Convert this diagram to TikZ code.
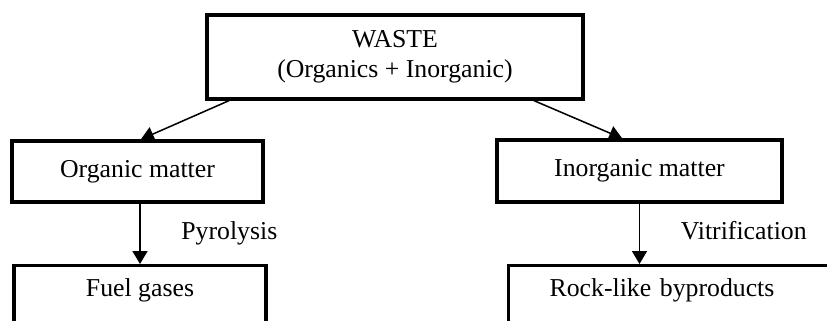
\documentclass[tikz,border=0pt]{standalone}
\usepackage{fontspec}
\setmainfont{Liberation Serif}
\usetikzlibrary{arrows.meta,positioning}

\begin{document}
\begin{tikzpicture}[x=1cm,y=1cm,every node/.style={font=\fontsize{22}{26}\selectfont},
  box/.style={draw,line width=2.8pt,inner sep=0pt},
  lowbox/.style={box,text height=0.93cm,text depth=2.5cm},
  arr/.style={line width=1.3pt,-{Triangle[length=0.39cm,width=0.45cm]}}]
\useasboundingbox (0,0) rectangle (24.81,-9.6);
\clip (0,0) rectangle (24.81,-9.6);
\node[box,minimum width=11.28cm,minimum height=2.52cm,align=center] (waste) at (11.85,-1.71) {WASTE\\(Organics + Inorganic)};
\node[box,minimum width=7.53cm,minimum height=1.83cm] (organic) at (4.125,-5.145) {Organic matter};
\node[box,minimum width=8.55cm,minimum height=1.86cm] (inorganic) at (19.185,-5.13) {Inorganic matter};
\node[lowbox,minimum width=7.56cm,anchor=north] (fuel) at (4.2,-7.92) {Fuel gases};
\node[lowbox,anchor=north west,inner xsep=1.23cm,text width=9cm,align=left] (rock) at (15.21,-7.92) {Rock-like byproducts};
\draw[arr] ([xshift=-4.98cm]waste.south) -- ([xshift=0.1cm]organic.north);
\draw[arr] ([xshift=4.17cm]waste.south) -- ([xshift=-0.52cm]inorganic.north);
\draw[arr] (fuel.north |- organic.south) -- node[midway,right=1.1cm] (pyro) {Pyrolysis} (fuel.north);
\draw[arr] (inorganic.south) -- node[midway,right=1.1cm,yshift=0.1cm] (vitri) {Vitrification} (inorganic.south |- rock.north);
\end{tikzpicture}
\end{document}
